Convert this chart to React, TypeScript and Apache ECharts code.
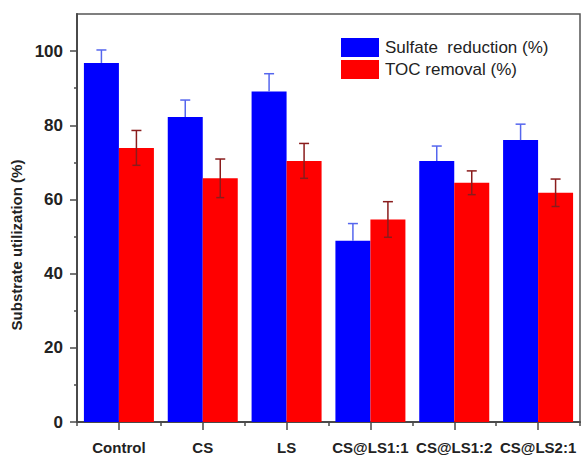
import React, { useEffect, useRef } from "react";
import * as echarts from "echarts";

const categories = ["Control", "CS", "LS", "CS@LS1:1", "CS@LS1:2", "CS@LS2:1"];
const sulfateValues = [96.8, 82.2, 89.1, 48.9, 70.4, 76.0];
const sulfateErrors = [3.5, 4.6, 4.8, 4.6, 4.0, 4.3];
const tocValues = [73.9, 65.7, 70.4, 54.6, 64.5, 61.8];
const tocErrors = [4.7, 5.2, 4.7, 4.8, 3.2, 3.7];
const yMajorTicks = [0, 20, 40, 60, 80, 100];
const yMinorTicks = [10, 30, 50, 70, 90];

const BAR_W = 35;
const FONT = "Arial, 'Liberation Sans', sans-serif";

function errorSeries(name: string, values: number[], errors: number[], offset: number, color: string, upperOnly: boolean) {
  return {
    name: name + " err",
    type: "custom",
    xAxisIndex: 0,
    yAxisIndex: 0,
    z: 5,
    silent: true,
    encode: { x: 0, y: 1 },
    data: values.map((v, i) => [i, v, errors[i]]),
    renderItem: (params: any, api: any) => {
      const xi = api.value(0);
      const v = api.value(1);
      const e = api.value(2);
      const top = api.coord([xi, v + e]);
      const bot = api.coord([xi, upperOnly ? v : v - e]);
      const cx = top[0] + offset;
      const style = { stroke: color, lineWidth: 1.5 };
      const children: any[] = [
        { type: "line", shape: { x1: cx, y1: top[1], x2: cx, y2: bot[1] }, style },
        { type: "line", shape: { x1: cx - 5, y1: top[1], x2: cx + 5, y2: top[1] }, style },
      ];
      if (!upperOnly) {
        children.push({ type: "line", shape: { x1: cx - 4, y1: bot[1], x2: cx + 4, y2: bot[1] }, style });
      }
      return { type: "group", children };
    },
  };
}

export default function App() {
  const ref = useRef<HTMLDivElement>(null);
  useEffect(() => {
    if (!ref.current) return;
    const chart = echarts.init(ref.current, undefined, { renderer: "svg" });
    const axisColor = "#4a4a4a";
    chart.setOption({
      animation: false,
      backgroundColor: "#ffffff",
      grid: {
        left: 77,
        right: 8,
        top: 14,
        bottom: 34,
        show: true,
        borderColor: "#555555",
        borderWidth: 1.5,
        containLabel: false,
      },
      legend: {
        orient: "vertical",
        left: 341,
        top: 38,
        padding: 0,
        itemGap: 3,
        itemWidth: 38,
        itemHeight: 19,
        icon: "rect",
        data: ["Sulfate  reduction (%)", "TOC removal (%)"],
        textStyle: { fontFamily: FONT, fontSize: 17, color: "#222222", padding: [0, 0, 0, 1] },
      },
      xAxis: [
        {
          type: "category",
          data: categories,
          position: "bottom",
          axisLine: { show: true, lineStyle: { color: axisColor, width: 2 } },
          axisTick: { show: true, alignWithLabel: true, length: 8, lineStyle: { color: axisColor, width: 1.5 } },
          axisLabel: {
            show: true,
            margin: 18,
            fontFamily: FONT,
            fontWeight: "bold",
            fontSize: 15,
            color: "#222222",
            interval: 0,
          },
          splitLine: { show: false },
        },
        {
          type: "category",
          data: categories,
          position: "bottom",
          axisLine: { show: false },
          axisTick: { show: true, length: 4, lineStyle: { color: axisColor, width: 1.5 } },
          axisLabel: { show: false },
          splitLine: { show: false },
        },
      ],
      yAxis: [
        {
          type: "value",
          min: 0,
          max: 110,
          name: "Substrate utilization (%)",
          nameLocation: "middle",
          nameGap: 49,
          nameTextStyle: {
            fontFamily: FONT,
            fontWeight: "bold",
            fontSize: 15,
            color: "#222222",
            padding: [0, 54, 0, 0],
          },
          axisLine: { show: true, lineStyle: { color: axisColor, width: 2 } },
          axisTick: { show: true, length: 7, customValues: yMajorTicks, lineStyle: { color: axisColor, width: 1.5 } },
          axisLabel: {
            show: true,
            customValues: yMajorTicks,
            margin: 14,
            fontFamily: FONT,
            fontWeight: "bold",
            fontSize: 17,
            color: "#222222",
          },
          splitLine: { show: false },
        },
        {
          type: "value",
          min: 0,
          max: 110,
          position: "left",
          axisLine: { show: false },
          axisTick: { show: true, length: 3, customValues: yMinorTicks, lineStyle: { color: axisColor, width: 1.5 } },
          axisLabel: { show: false },
          splitLine: { show: false },
        },
      ],
      series: [
        {
          name: "Sulfate  reduction (%)",
          type: "bar",
          xAxisIndex: 0,
          yAxisIndex: 0,
          data: sulfateValues,
          barWidth: BAR_W,
          barGap: "0%",
          itemStyle: { color: "#0000ff" },
        },
        {
          name: "TOC removal (%)",
          type: "bar",
          xAxisIndex: 0,
          yAxisIndex: 0,
          data: tocValues,
          barWidth: BAR_W,
          barGap: "0%",
          itemStyle: { color: "#ff0000" },
        },
        errorSeries("Sulfate", sulfateValues, sulfateErrors, -BAR_W / 2, "#5566ee", true),
        errorSeries("TOC", tocValues, tocErrors, BAR_W / 2, "#8a1c1c", false),
      ],
    });
    return () => chart.dispose();
  }, []);
  return <div ref={ref} style={{ width: 588, height: 456, position: "absolute", left: 0, top: 0 }} />;
}
